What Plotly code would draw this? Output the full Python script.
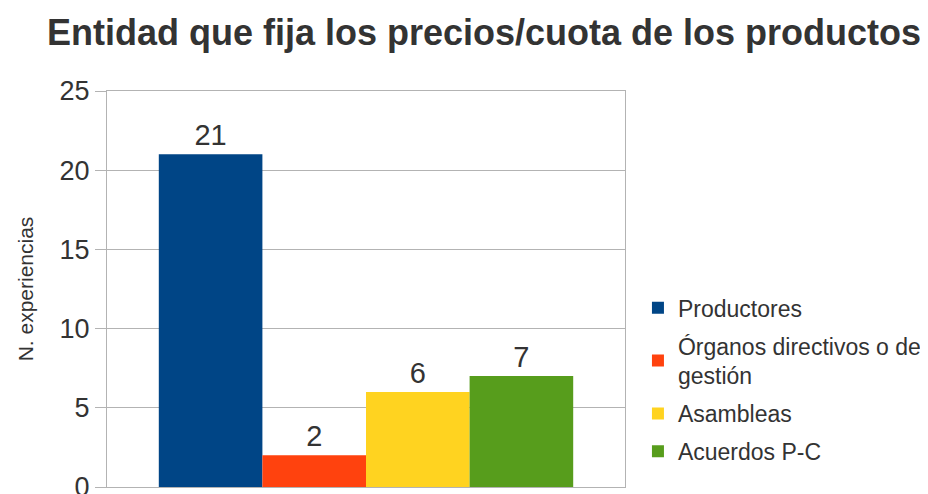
import plotly.graph_objects as go

series = ["Productores", "Órganos directivos o de<br>gestión", "Asambleas", "Acuerdos P-C"]
values = [21, 2, 6, 7]
colors = ["#004586", "#ff420e", "#ffd320", "#579d1c"]
category = [""]
title_text = "Entidad que fija los precios/cuota de los productos"
y_title = "N. experiencias"

fig = go.Figure()
for i, (name, v, c) in enumerate(zip(series, values, colors)):
    fig.add_trace(go.Bar(
        x=category, y=[v], name=name, legendgroup=f"g{i}",
        marker=dict(color=c, line=dict(width=0)),
        text=[str(v)], textposition="outside", cliponaxis=False,
        textfont=dict(family="Liberation Sans, Arial", size=29, color="#333333"),
    ))

fig.update_layout(
    width=928, height=494,
    margin=dict(l=99, r=311, t=83, b=15, autoexpand=False),
    paper_bgcolor="white", plot_bgcolor="white",
    barmode="group", bargap=0.2, bargroupgap=0,
    title=dict(text="<b>" + title_text + "</b>",
               x=476 / 928, xanchor="center", y=1 - 24 / 494, yanchor="middle",
               font=dict(family="Liberation Sans, Arial", size=36, color="#333333")),
    font=dict(family="Liberation Sans, Arial", color="#333333"),
    legend=dict(x=1.025, xanchor="left", y=0.507, yanchor="top",
                font=dict(size=23, color="#333333"), tracegroupgap=5,
                itemwidth=30),
    showlegend=True,
)
fig.update_yaxes(range=[0, 25], dtick=5, showgrid=True, gridcolor="#b3b3b3",
                 showline=True, linecolor="#b3b3b3", mirror=True,
                 ticks="outside", ticklen=11, tickcolor="#b3b3b3",
                 tickfont=dict(size=27, color="#333333"), automargin=False,
                 ticklabeloverflow="allow",
                 title=dict(text=y_title, font=dict(size=21, color="#333333"), standoff=20),
                 zeroline=False)
fig.update_xaxes(showline=True, linecolor="#b3b3b3", mirror=True, showticklabels=False,
                 showgrid=False, automargin=False)

fig.write_html("out.html")
